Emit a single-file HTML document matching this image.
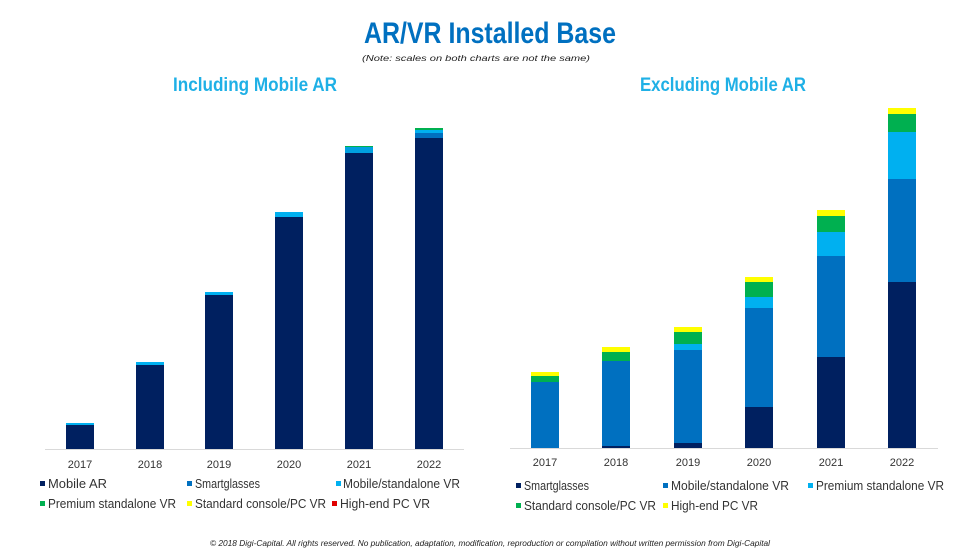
<!DOCTYPE html>
<html><head><meta charset="utf-8"><style>
html,body{margin:0;padding:0;background:#fff;}
svg{display:block;}
text{font-family:"Liberation Sans Narrow","Liberation Sans",sans-serif;}
</style></head><body>
<svg width="980" height="551" viewBox="0 0 980 551" xmlns="http://www.w3.org/2000/svg">
<text x="490" y="43" text-anchor="middle" font-size="30" font-weight="bold" fill="#0070c0" textLength="252" lengthAdjust="spacingAndGlyphs">AR/VR Installed Base</text>
<text x="476" y="61" text-anchor="middle" font-size="8.5" font-style="italic" fill="#222" font-family="Liberation Serif" textLength="228" lengthAdjust="spacingAndGlyphs">(Note: scales on both charts are not the same)</text>
<text x="255" y="91" text-anchor="middle" font-size="19" font-weight="bold" fill="#1fb0e6" textLength="164" lengthAdjust="spacingAndGlyphs">Including Mobile AR</text>
<text x="723" y="91" text-anchor="middle" font-size="19" font-weight="bold" fill="#1fb0e6" textLength="166" lengthAdjust="spacingAndGlyphs">Excluding Mobile AR</text>

<!-- Left chart -->
<line x1="45" y1="449.5" x2="464" y2="449.5" stroke="#d9d9d9" stroke-width="1"/>
<g>
<rect x="66" y="423" width="28" height="3" fill="#00b0f0"/><rect x="66" y="425" width="28" height="24" fill="#002060"/>
<rect x="136" y="362" width="28" height="3" fill="#00b0f0"/><rect x="136" y="365" width="28" height="84" fill="#002060"/>
<rect x="205" y="292" width="28" height="3" fill="#00b0f0"/><rect x="205" y="295" width="28" height="154" fill="#002060"/>
<rect x="275" y="212" width="28" height="5" fill="#00b0f0"/><rect x="275" y="217" width="28" height="232" fill="#002060"/>
<rect x="345" y="146" width="28" height="1" fill="#00b050"/><rect x="345" y="147" width="28" height="6" fill="#00a0e0"/><rect x="345" y="153" width="28" height="296" fill="#002060"/>
<rect x="415" y="128" width="28" height="2" fill="#00b050"/><rect x="415" y="130" width="28" height="3" fill="#00b0f0"/><rect x="415" y="133" width="28" height="5" fill="#0070c0"/><rect x="415" y="138" width="28" height="311" fill="#002060"/>
</g>
<g font-size="11" fill="#333" text-anchor="middle">
<text x="80" y="468">2017</text><text x="150" y="468">2018</text><text x="219" y="468">2019</text><text x="289" y="468">2020</text><text x="359" y="468">2021</text><text x="429" y="468">2022</text>
</g>
<g font-size="13" fill="#333" lengthAdjust="spacingAndGlyphs">
<rect x="40" y="481" width="5" height="5" fill="#002060"/><text x="48" y="488" textLength="59" lengthAdjust="spacingAndGlyphs">Mobile AR</text>
<rect x="187" y="481" width="5" height="5" fill="#0070c0"/><text x="195" y="488" textLength="65" lengthAdjust="spacingAndGlyphs">Smartglasses</text>
<rect x="336" y="481" width="5" height="5" fill="#00b0f0"/><text x="343" y="488" textLength="117" lengthAdjust="spacingAndGlyphs">Mobile/standalone VR</text>
<rect x="40" y="501" width="5" height="5" fill="#00b050"/><text x="48" y="508" textLength="128" lengthAdjust="spacingAndGlyphs">Premium standalone VR</text>
<rect x="187" y="501" width="5" height="5" fill="#ffff00"/><text x="195" y="508" textLength="131" lengthAdjust="spacingAndGlyphs">Standard console/PC VR</text>
<rect x="332" y="501" width="5" height="5" fill="#e00000"/><text x="340" y="508" textLength="90" lengthAdjust="spacingAndGlyphs">High-end PC VR</text>
</g>

<!-- Right chart -->
<line x1="510" y1="448.5" x2="938" y2="448.5" stroke="#d9d9d9" stroke-width="1"/>
<g>
<rect x="531" y="372" width="28" height="4" fill="#ffff00"/><rect x="531" y="376" width="28" height="6" fill="#00b050"/><rect x="531" y="382" width="28" height="66" fill="#0070c0"/>
<rect x="602" y="347" width="28" height="5" fill="#ffff00"/><rect x="602" y="352" width="28" height="9" fill="#00b050"/><rect x="602" y="361" width="28" height="85" fill="#0070c0"/><rect x="602" y="446" width="28" height="2" fill="#002060"/>
<rect x="674" y="327" width="28" height="5" fill="#ffff00"/><rect x="674" y="332" width="28" height="12" fill="#00b050"/><rect x="674" y="344" width="28" height="6" fill="#00b0f0"/><rect x="674" y="350" width="28" height="93" fill="#0070c0"/><rect x="674" y="443" width="28" height="5" fill="#002060"/>
<rect x="745" y="277" width="28" height="5" fill="#ffff00"/><rect x="745" y="282" width="28" height="15" fill="#00b050"/><rect x="745" y="297" width="28" height="11" fill="#00b0f0"/><rect x="745" y="308" width="28" height="99" fill="#0070c0"/><rect x="745" y="407" width="28" height="41" fill="#002060"/>
<rect x="817" y="210" width="28" height="6" fill="#ffff00"/><rect x="817" y="216" width="28" height="16" fill="#00b050"/><rect x="817" y="232" width="28" height="24" fill="#00b0f0"/><rect x="817" y="256" width="28" height="101" fill="#0070c0"/><rect x="817" y="357" width="28" height="91" fill="#002060"/>
<rect x="888" y="108" width="28" height="6" fill="#ffff00"/><rect x="888" y="114" width="28" height="18" fill="#00b050"/><rect x="888" y="132" width="28" height="47" fill="#00b0f0"/><rect x="888" y="179" width="28" height="103" fill="#0070c0"/><rect x="888" y="282" width="28" height="166" fill="#002060"/>
</g>
<g font-size="11" fill="#333" text-anchor="middle">
<text x="545" y="466">2017</text><text x="616" y="466">2018</text><text x="688" y="466">2019</text><text x="759" y="466">2020</text><text x="831" y="466">2021</text><text x="902" y="466">2022</text>
</g>
<g font-size="13" fill="#333">
<rect x="516" y="483" width="5" height="5" fill="#002060"/><text x="524" y="490" textLength="65" lengthAdjust="spacingAndGlyphs">Smartglasses</text>
<rect x="663" y="483" width="5" height="5" fill="#0070c0"/><text x="671" y="490" textLength="118" lengthAdjust="spacingAndGlyphs">Mobile/standalone VR</text>
<rect x="808" y="483" width="5" height="5" fill="#00b0f0"/><text x="816" y="490" textLength="128" lengthAdjust="spacingAndGlyphs">Premium standalone VR</text>
<rect x="516" y="503" width="5" height="5" fill="#00b050"/><text x="524" y="510" textLength="132" lengthAdjust="spacingAndGlyphs">Standard console/PC VR</text>
<rect x="663" y="503" width="5" height="5" fill="#ffff00"/><text x="671" y="510" textLength="87" lengthAdjust="spacingAndGlyphs">High-end PC VR</text>
</g>

<text x="490" y="546" text-anchor="middle" font-size="8" font-style="italic" fill="#222" font-family="Liberation Sans" textLength="560" lengthAdjust="spacingAndGlyphs">© 2018 Digi-Capital. All rights reserved. No publication, adaptation, modification, reproduction or compilation without written permission from Digi-Capital</text>
</svg>
</body></html>
